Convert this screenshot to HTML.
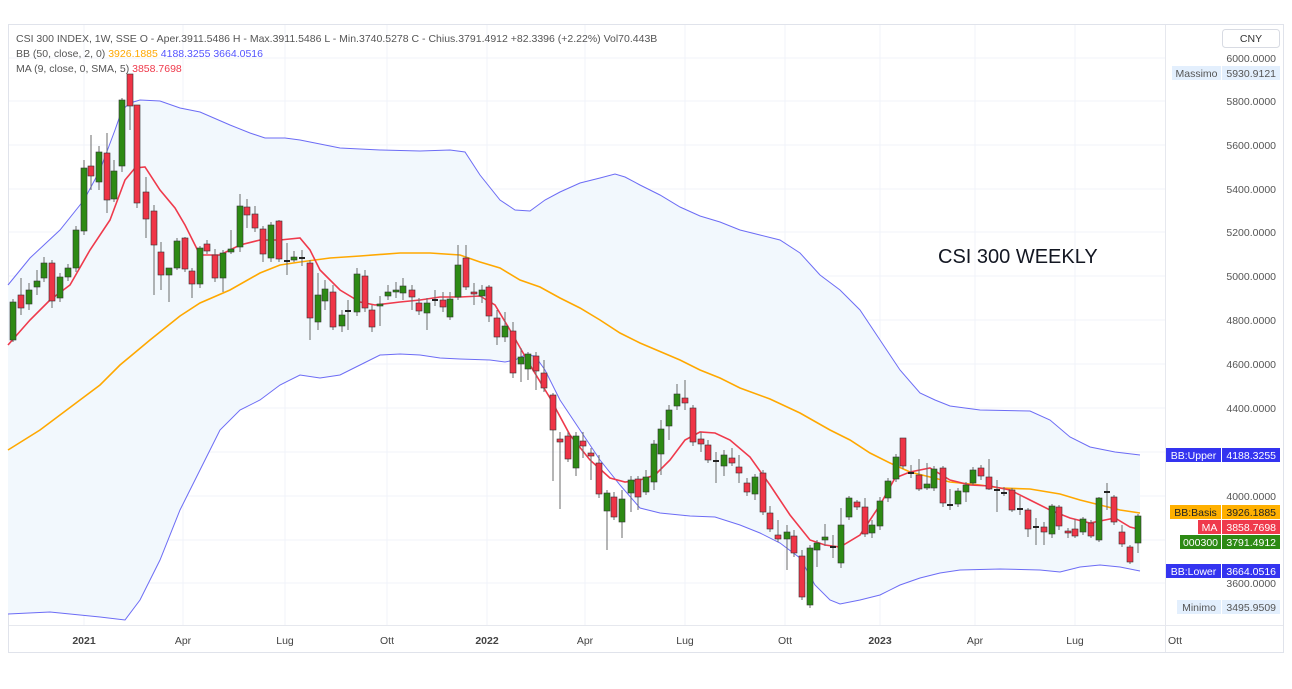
<!DOCTYPE html>
<html><head><meta charset="utf-8"><style>
html,body{margin:0;padding:0;background:#fff;}
body{width:1292px;height:684px;overflow:hidden;font-family:"Liberation Sans",sans-serif;}
svg text{font-family:"Liberation Sans",sans-serif;}
</style></head><body>
<svg id="s" width="1292" height="684" xmlns="http://www.w3.org/2000/svg"></svg>
<script>
const S=document.getElementById('s');let h='';
h+='<rect x="8.5" y="24.5" width="1275" height="628" fill="#fff" stroke="#e0e3eb"/>';
// grid
const py=[58,101,145,189,232,276,320,364,408,452,496,540,583];
const pl=['6000.0000','5800.0000','5600.0000','5400.0000','5200.0000','5000.0000','4800.0000','4600.0000','4400.0000','4200.0000','4000.0000','3800.0000','3600.0000'];
py.forEach(y=>h+=`<line x1="9" x2="1165" y1="${y}" y2="${y}" stroke="#f0f3fa"/>`);
const mx=[[84,'2021',1],[183,'Apr'],[285,'Lug'],[387,'Ott'],[487,'2022',1],[585,'Apr'],[685,'Lug'],[785,'Ott'],[880,'2023',1],[975,'Apr'],[1075,'Lug'],[1175,'Ott']];
mx.forEach(m=>{if(m[0]<1165)h+=`<line x1="${m[0]}" x2="${m[0]}" y1="25" y2="625" stroke="#f0f3fa"/>`;});
const U=[[8,285],[30,258],[60,230],[84,200],[100,170],[115,130],[122,110],[130,103],[140,100],[160,101],[180,108],[200,112],[230,125],[250,133],[265,138],[285,138],[300,140],[320,144],[340,148],[380,150],[420,151],[450,150],[465,152],[480,175],[500,200],[515,210],[530,211],[545,200],[560,192],[580,183],[600,178],[615,174],[625,177],[640,185],[660,195],[680,207],[700,216],[720,222],[740,230],[760,235],[780,240],[800,253],[820,275],[840,290],[860,310],[880,340],[900,370],[920,393],[935,400],[950,406],[980,410],[1030,411],[1050,420],[1070,437],[1090,447],[1115,452],[1140,455]];
const L=[[8,614],[50,612],[100,617],[125,620],[140,600],[160,560],[180,510],[200,470],[220,430],[240,410],[260,400],[280,385],[300,375],[320,378],[340,375],[360,365],[380,355],[400,354],[420,355],[440,358],[460,359],[490,360],[505,362],[515,360],[525,355],[535,356],[545,370],[560,400],[580,430],[600,460],[620,485],[640,508],[660,513],[690,516],[715,517],[740,525],[760,533],[780,543],[800,558],[815,585],[830,600],[840,604],[860,600],[880,595],[900,585],[920,578],[940,573],[960,570],[1000,569],[1040,570],[1060,572],[1080,567],[1100,565],[1120,567],[1140,571]];
const B=[[8,450],[40,430],[80,400],[100,385],[120,365],[150,340],[180,316],[200,303],[230,290],[260,273],[280,265],[300,262],[330,258],[360,256],[400,253],[430,253],[460,255],[480,262],[500,268],[520,280],[540,287],[560,298],[580,308],[600,320],[620,333],[640,343],[680,360],[700,370],[720,378],[740,388],[770,399],[800,413],[830,430],[850,440],[870,453],[890,463],[910,472],[930,477],[950,482],[980,485],[1000,488],[1030,489],[1060,494],[1080,500],[1100,505],[1120,510],[1140,513]];
const M=[[8,345],[30,320],[50,300],[70,285],[90,250],[110,220],[125,180],[135,168],[145,167],[160,190],[175,208],[185,225],[200,255],[220,255],[240,245],[260,240],[280,240],[300,238],[310,250],[320,270],[340,290],[360,302],[375,305],[400,302],[420,300],[440,297],[460,297],[480,296],[495,305],[510,330],[530,365],[550,398],[570,435],[590,460],[610,478],[625,482],[640,480],[655,475],[670,460],[685,440],[700,432],[715,433],[730,440],[750,457],[770,485],[790,515],[810,540],[825,545],[840,547],[860,535],[870,520],[880,505],[895,478],[910,472],[930,468],[950,480],[970,485],[990,486],[1010,490],[1030,500],[1050,510],[1070,518],[1090,523],[1100,521],[1115,518],[1130,527],[1138,529]];
const P=a=>a.map(p=>p.join(',')).join(' ');
h+=`<polygon points="${P(U)} ${P(L.slice().reverse())}" fill="#f2f8fd"/>`;
h+=`<polyline points="${P(U)}" fill="none" stroke="#6c6cf5" stroke-width="1"/>`;
h+=`<polyline points="${P(L)}" fill="none" stroke="#6c6cf5" stroke-width="1"/>`;
h+=`<polyline points="${P(B)}" fill="none" stroke="#ffa800" stroke-width="1.6"/>`;
h+=`<polyline points="${P(M)}" fill="none" stroke="#ef3a4c" stroke-width="1.6"/>`;
// candles x,o,c,[h,l]
const C=[[13,340,302,299,342],[21,295,308,278,315],[29,304,290,283,310],[37,287,281,270,295],[44,278,263,257,282],[52,263,301,260,308],[60,298,277],[68,277,268],[76,268,230],[84,231,168,160,235],[91,166,176,135,190],[99,182,152,146,190],[107,153,200,133,213],[114,199,171,160,202],[122,166,100,98,172],[130,74,106,74,130],[137,105,203,105,208],[146,192,219,177,238],[154,211,245,205,295],[161,252,275,242,290],[169,275,268,268,302],[177,268,241,238,270],[185,238,269,237,272],[192,271,284,268,298],[200,284,248,246,288],[207,244,251,240,254],[215,255,278,249,282],[223,278,253,250,292],[231,252,249,230,254],[240,247,206,194,252],[247,207,215,199,228],[255,214,228,206,232],[263,229,254,226,262],[271,258,225,222,262],[279,221,259,220,262],[287,261,261,243,275],[294,260,257,251,262],[302,258,258,250,266],[310,263,318,260,340],[318,322,295,273,330],[325,301,289,280,310],[333,292,327,285,330],[342,326,315,310,332],[348,311,311,300,330],[357,312,274,268,316],[365,276,308,270,312],[372,310,327,305,332],[380,306,304,296,326],[388,296,292,285,300],[396,292,290,282,298],[403,293,286,278,300],[412,290,297,285,310],[419,303,311,298,315],[427,313,303,298,330],[435,300,300,290,306],[443,300,307,292,312],[450,317,299,292,320],[458,297,265,245,300],[466,258,287,245,290],[474,292,294,283,305],[482,296,290,285,303],[489,287,316,285,322],[497,318,337,310,345],[505,337,326,312,342],[513,331,373,322,378],[521,364,357,348,382],[528,369,354,352,380],[536,356,371,352,390],[544,373,388,360,392],[553,395,430,393,481],[560,439,442,432,509],[568,436,459,432,462],[576,468,436,432,476],[583,441,446,432,458],[591,453,456,448,480],[599,463,494,455,498],[607,511,493,490,550],[614,497,517,492,520],[622,522,499,490,538],[631,493,480,476,512],[638,479,497,476,510],[646,492,477,470,495],[654,482,444,440,490],[661,454,429,420,475],[669,426,410,405,440],[677,406,394,384,410],[685,398,403,380,410],[693,408,442,405,446],[701,439,444,432,452],[708,445,460,440,463],[716,461,461,452,483],[724,466,455,450,476],[732,458,463,448,466],[739,467,473,455,483],[747,483,492,478,496],[755,494,477,474,500],[763,473,512,470,515],[770,513,529,506,532],[778,535,539,520,542],[787,539,532,525,570],[794,536,553,530,557],[802,556,597,550,600],[810,605,548,545,608],[817,550,543,540,567],[825,540,537,524,546],[833,547,547,535,558],[841,563,525,508,568],[849,517,498,496,520],[857,502,507,500,510],[865,507,534,498,537],[872,533,525,520,538],[880,526,501,497,530],[888,498,481,478,502],[896,479,457,454,482],[903,438,466,438,469],[911,473,473,465,478],[919,475,489,459,491],[927,488,484,463,490],[934,488,469,466,491],[943,468,503,466,507],[950,505,505,489,510],[958,504,491,488,507],[966,492,485,482,502],[973,483,470,467,485],[981,468,476,465,480],[989,477,489,459,490],[997,490,490,480,512],[1004,493,493,487,496],[1012,490,510,488,512],[1020,510,509,496,515],[1028,510,529,508,537],[1036,527,527,518,545],[1044,527,532,522,545],[1052,534,506,504,538],[1059,507,526,505,530],[1068,531,533,528,538],[1075,529,536,519,538],[1083,532,519,517,535],[1091,523,536,520,538],[1099,540,498,497,542],[1107,492,492,483,510],[1114,497,522,495,525],[1122,532,544,525,547],[1130,547,562,545,564],[1138,543,516,514,553]];
C.forEach(c=>{let[x,o,cl,hi,lo]=c;if(hi===undefined){hi=Math.min(o,cl)-4;lo=Math.max(o,cl)+4;}
const g=cl<o||(cl==o&&false);const t=Math.min(o,cl),b=Math.max(o,cl);
h+=`<line x1="${x}" x2="${x}" y1="${hi}" y2="${lo}" stroke="#6b6b6b" stroke-width="1"/>`;
if(b-t<1.5)h+=`<rect x="${x-3}" y="${t-1}" width="6" height="2" fill="#222"/>`;
else h+=`<rect x="${x-3}" y="${t}" width="6" height="${b-t}" fill="${g?'#2d8a14':'#ef3446'}" stroke="#333" stroke-width="0.6"/>`;});
// watermark
h+=`<text x="938" y="263" font-size="20" fill="#131722">CSI 300 WEEKLY</text>`;
// legend
h+=`<text x="16" y="42" font-size="10.5" fill="#555">CSI 300 INDEX, 1W, SSE  O - Aper.3911.5486  H - Max.3911.5486  L - Min.3740.5278  C - Chius.3791.4912  +82.3396 (+2.22%)  Vol70.443B</text>`;
h+=`<text x="16" y="57" font-size="10.5" fill="#555">BB (50, close, 2, 0) <tspan fill="#ffa800">3926.1885</tspan> <tspan fill="#5555ff">4188.3255</tspan> <tspan fill="#5555ff">3664.0516</tspan></text>`;
h+=`<text x="16" y="72" font-size="10.5" fill="#555">MA (9, close, 0, SMA, 5) <tspan fill="#ef3a4c">3858.7698</tspan></text>`;
// axis
h+=`<line x1="1165.5" x2="1165.5" y1="25" y2="652" stroke="#e6e8ee"/><line x1="9" x2="1283" y1="625.5" y2="625.5" stroke="#e6e8ee"/>`;
py.forEach((y,i)=>{if(i!=10&&i!=12||true)h+=`<text x="1276" y="${y+4}" font-size="10.5" fill="#555" text-anchor="end">${pl[i]}</text>`;});
mx.forEach(m=>h+=`<text x="${m[0]}" y="644" font-size="10.5" fill="#444" text-anchor="middle" ${m[2]?'font-weight="bold"':''}>${m[1]}</text>`);
h+=`<rect x="1222.5" y="29.5" width="57" height="18" rx="3" fill="#fff" stroke="#d8dbe3"/><text x="1251" y="42" font-size="10.5" fill="#333" text-anchor="middle">CNY</text>`;
function lab(y,t1,v,bg,fg,w1){let x1=1222-w1;h+=`<rect x="${x1}" y="${y-7}" width="${w1-1}" height="14" fill="${bg}"/><rect x="1222" y="${y-7}" width="58" height="14" fill="${bg}"/>`;
h+=`<text x="${x1+(w1-1)/2}" y="${y+4}" font-size="10.5" fill="${fg}" text-anchor="middle">${t1}</text><text x="1276" y="${y+4}" font-size="10.5" fill="${fg}" text-anchor="end">${v}</text>`;}
lab(73,'Massimo','5930.9121','#e3effd','#555',50);
lab(607,'Minimo','3495.9509','#e3effd','#555',45);
lab(455,'BB:Upper','4188.3255','#3434f0','#fff',56);
lab(571,'BB:Lower','3664.0516','#3434f0','#fff',56);
lab(512,'BB:Basis','3926.1885','#ffb000','#222',52);
lab(527,'MA','3858.7698','#ef3a4c','#fff',24);
lab(542,'000300','3791.4912','#2d8a14','#fff',42);
S.innerHTML=h;
</script>
</body></html>
